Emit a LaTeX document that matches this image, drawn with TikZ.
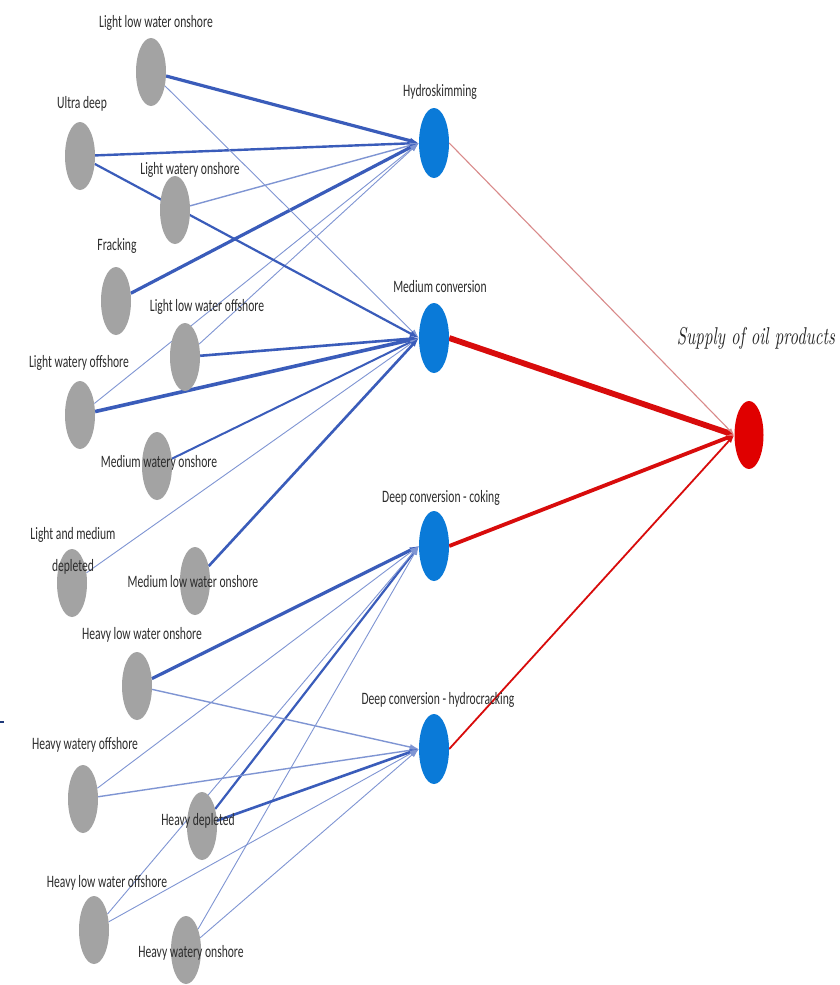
\documentclass[tikz,border=0pt]{standalone}
\usepackage{fontspec}
\usepackage{graphicx}
\newfontfamily\calib{Carlito}
\usetikzlibrary{arrows.meta,shapes.geometric}
\pgfdeclarelayer{bg}
\pgfsetlayers{bg,main}
\definecolor{nodegray}{HTML}{A3A3A3}
\definecolor{nodeblue}{HTML}{0A7AD8}
\definecolor{nodered}{HTML}{E00000}
\definecolor{edgeblue}{HTML}{3A5CBA}
\definecolor{edgeblueL}{HTML}{7F95D3}
\definecolor{edgered}{HTML}{D80C0C}
\definecolor{edgepink}{HTML}{D98A8A}
\definecolor{labelgray}{HTML}{2C2C2C}
\definecolor{markblue}{HTML}{1F3A7A}
\newcommand\stxt[1]{\scalebox{1}[1.5]{#1}}
\begin{document}
\begin{tikzpicture}[x=1pt,y=-1pt,
  srcnode/.style={ellipse,fill=nodegray,draw=none,minimum width=30pt,minimum height=68pt,inner sep=0pt},
  refnode/.style={ellipse,fill=nodeblue,draw=none,minimum width=30pt,minimum height=70pt,inner sep=0pt},
  outnode/.style={ellipse,fill=nodered,draw=none,minimum width=29pt,minimum height=68pt,inner sep=0pt},
  lbl/.style={font=\calib\fontsize{11.6}{13}\selectfont,text=labelgray,inner sep=0pt,align=center},
  bl/.style={draw=edgeblue,-{Latex[length=9pt,width=6pt]}},
  blL/.style={draw=edgeblueL,-{Latex[length=9pt,width=6pt]}},
  rl/.style={draw=edgered,-{Latex[length=8pt,width=6pt]}},
]
\useasboundingbox (0,0) rectangle (839,985);

% source nodes
\node[srcnode] (g1) at (151,72) {};
\node[srcnode] (g2) at (80,156) {};
\node[srcnode] (g3) at (175,210) {};
\node[srcnode] (g4) at (116,301) {};
\node[srcnode] (g5) at (185,357) {};
\node[srcnode] (g6) at (80,415) {};
\node[srcnode] (g7) at (157,466) {};
\node[srcnode] (g8) at (72,583) {};
\node[srcnode] (g9) at (195,581) {};
\node[srcnode] (g10) at (137,686) {};
\node[srcnode] (g11) at (83,799) {};
\node[srcnode] (g12) at (202,826) {};
\node[srcnode] (g13) at (94,930) {};
\node[srcnode] (g14) at (186,950) {};

% refinery nodes
\node[refnode] (H) at (434,143) {};
\node[refnode] (MC) at (434,338) {};
\node[refnode] (DC) at (434,546) {};
\node[refnode] (DH) at (434,749) {};

% output node
\node[outnode] (S) at (749,435) {};

% labels
\node[lbl] (l1) at (156,23) {\stxt{Light low water onshore}};
\node[lbl] (l2) at (82,104) {\stxt{Ultra deep}};
\node[lbl] (l3) at (190,170) {\stxt{Light watery onshore}};
\node[lbl] (l4) at (117,246) {\stxt{Fracking}};
\node[lbl] (l5) at (207,307) {\stxt{Light low water offshore}};
\node[lbl] (l6) at (79,363) {\stxt{Light watery offshore}};
\node[lbl] (l7) at (159,463) {\stxt{Medium watery onshore}};
\node[lbl] (l8a) at (73,535) {\stxt{Light and medium}};
\node[lbl] (l8b) at (73,567) {\stxt{depleted}};
\node[lbl] (l9) at (193,582) {\stxt{Medium low water onshore}};
\node[lbl] (l10) at (142,635) {\stxt{Heavy low water onshore}};
\node[lbl] (l11) at (85,745) {\stxt{Heavy watery offshore}};
\node[lbl] (l12) at (198,821) {\stxt{Heavy depleted}};
\node[lbl] (l13) at (107,883) {\stxt{Heavy low water offshore}};
\node[lbl] (l14) at (191,953) {\stxt{Heavy watery onshore}};
\node[lbl] (lH) at (440,92) {\stxt{Hydroskimming}};
\node[lbl] (lMC) at (440,287) {\stxt{Medium conversion}};
\node[lbl] (lDC) at (441,498) {\stxt{Deep conversion - coking}};
\node[lbl] (lDH) at (438,700) {\stxt{Deep conversion - hydrocracking}};
\node[inner sep=0pt,text=black!85] (lS) at (756,338)
  {\scalebox{1}[1.45]{\resizebox{158pt}{!}{\itshape Supply of oil products}}};

% small mark at left edge
\coordinate (m1) at (0,722);
\coordinate (m2) at (4,722);

\begin{pgfonlayer}{bg}
\fill[white] (0,0) rectangle (839,985);
\draw[markblue,line width=2pt] (m1) -- (m2);
% to Hydroskimming
\draw[bl,line width=3.2pt] (g1) -- (H.west);
\draw[bl,line width=2.4pt] (g2) -- (H.west);
\draw[blL,line width=1.4pt] (g3) -- (H.west);
\draw[bl,line width=3.2pt] (g4) -- (H.west);
\draw[blL,line width=0.9pt] (g5) -- (H.west);
\draw[blL,line width=0.9pt] (g6) -- (H.west);
% to Medium conversion
\draw[blL,line width=0.9pt] (g1) -- (MC.west);
\draw[bl,line width=2.2pt] (g2) -- (MC.west);
\draw[bl,line width=2.6pt] (g5) -- (MC.west);
\draw[bl,line width=3.6pt] (g6) -- (MC.west);
\draw[bl,line width=2.0pt] (g7) -- (MC.west);
\draw[blL,line width=0.9pt] (g8) -- (MC.west);
\draw[bl,line width=2.6pt] (g9) -- (MC.west);
% to Deep conversion - coking
\draw[bl,line width=3.2pt] (g10) -- (DC.west);
\draw[blL,line width=0.9pt] (g11) -- (DC.west);
\draw[bl,line width=2.2pt] (g12) -- (DC.west);
\draw[blL,line width=0.9pt] (g13) -- (DC.west);
\draw[blL,line width=0.9pt] (g14) -- (DC.west);
% to Deep conversion - hydrocracking
\draw[blL,line width=1.4pt] (g10) -- (DH.west);
\draw[blL,line width=1.4pt] (g11) -- (DH.west);
\draw[bl,line width=2.6pt] (g12) -- (DH.west);
\draw[blL,line width=0.9pt] (g13) -- (DH.west);
\draw[blL,line width=0.9pt] (g14) -- (DH.west);
% to supply
\draw[draw=edgepink,-{Latex[length=7pt,width=5pt]},line width=1.1pt] (H.east) -- (S.west);
\draw[rl,line width=5.8pt] (MC.east) -- (S.west);
\draw[rl,line width=3.8pt] (DC.east) -- (S.west);
\draw[rl,line width=1.8pt] (DH.east) -- (S.west);
\end{pgfonlayer}
\end{tikzpicture}
\end{document}
